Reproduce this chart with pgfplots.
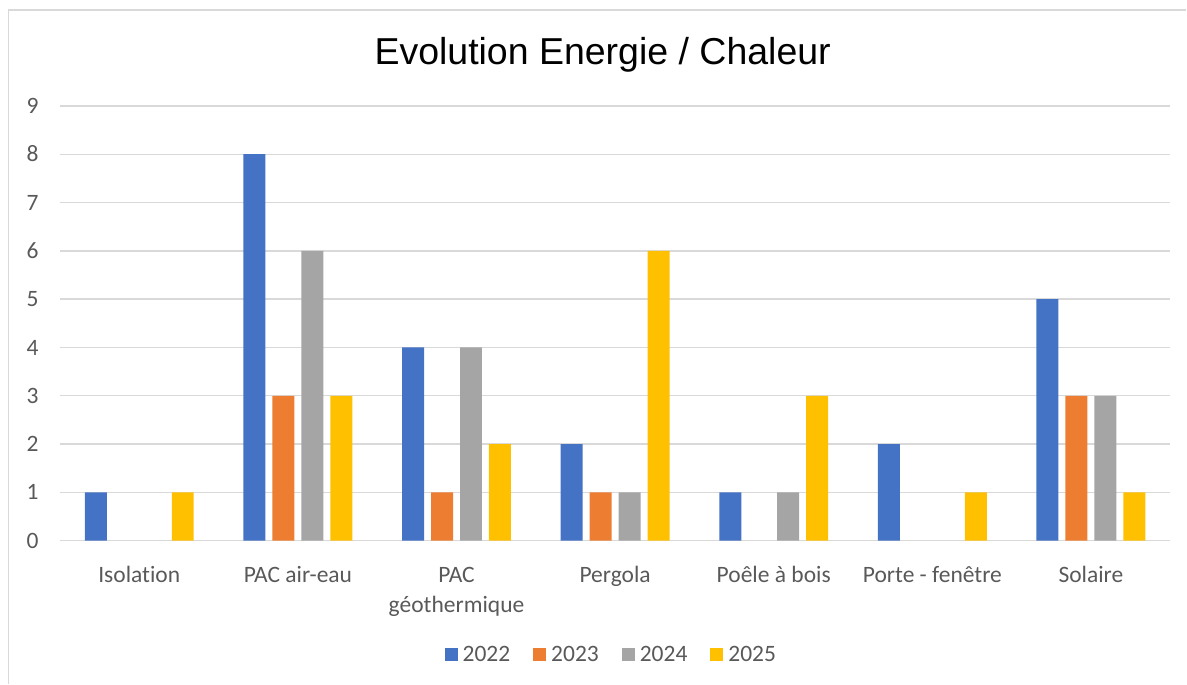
\documentclass[border=0pt]{standalone}
\usepackage{pgfplots}
\pgfplotsset{compat=1.18}
\usepackage{fontspec}
\setmainfont{Carlito}[RawFeature={-liga}]
\newfontfamily\titlefont{Liberation Sans}
\definecolor{c22}{HTML}{4472C4}
\definecolor{c23}{HTML}{ED7D31}
\definecolor{c24}{HTML}{A5A5A5}
\definecolor{c25}{HTML}{FFC000}
\definecolor{gridc}{HTML}{D9D9D9}
\definecolor{txt}{HTML}{595959}
\begin{document}
\begin{tikzpicture}
\begin{axis}[
  at={(0,0)}, anchor=south west,
  scale only axis, width=1111pt, height=435pt,
  xmin=-0.5, xmax=6.5, ymin=0, ymax=9,
  ytick={0,1,...,9},
  xtick={0,1,...,6},
  xticklabels={Isolation, PAC air-eau, {PAC\\géothermique}, Pergola, Poêle à bois, Porte - fenêtre, Solaire},
  typeset ticklabels with strut,
  xticklabel style={align=center, font=\fontsize{23.5}{30}\selectfont, text=txt, yshift=-17pt},
  yticklabel style={font=\fontsize{23.5}{28}\selectfont, text=txt, xshift=-18pt, yshift=-2pt},
  /pgf/number format/assume math mode=true,
  ymajorgrids, grid style={draw=gridc, line width=1.4pt},
  axis line style={draw=none},
  major tick length=0pt,
  tick style={draw=none},
  ybar=7pt, bar width=22pt,
  legend style={at={(axis description cs:0.4966,-0.262)}, anchor=center, draw=none,
    font=\fontsize{23.5}{28}\selectfont, text=txt,
    /tikz/every even column/.append style={column sep=21pt}},
  legend columns=4,
  legend image code/.code={\draw[#1, draw=none] (0pt,-6.5pt) rectangle (13pt,6.5pt); \path (16pt,0pt);},
]
\addplot[fill=c22, draw=none] coordinates {(0,1) (1,8) (2,4) (3,2) (4,1) (5,2) (6,5)};
\addplot[fill=c23, draw=none] coordinates {(1,3) (2,1) (3,1) (6,3)};
\addplot[fill=c24, draw=none] coordinates {(1,6) (2,4) (3,1) (4,1) (6,3)};
\addplot[fill=c25, draw=none] coordinates {(0,1) (1,3) (2,2) (3,6) (4,3) (5,1) (6,1)};
\legend{2022,2023,2024,2025}
\end{axis}
\node[anchor=base, font=\titlefont\fontsize{37.5}{40}\selectfont] at (543pt,476pt) {Evolution Energie / Chaleur};
\draw[gridc, line width=1.4pt] (-51.7pt,-143pt) -- (-51.7pt,531pt) -- (1127pt,531pt);
\useasboundingbox (-60pt,-143pt) rectangle (1127pt,541pt);
\end{tikzpicture}
\end{document}
